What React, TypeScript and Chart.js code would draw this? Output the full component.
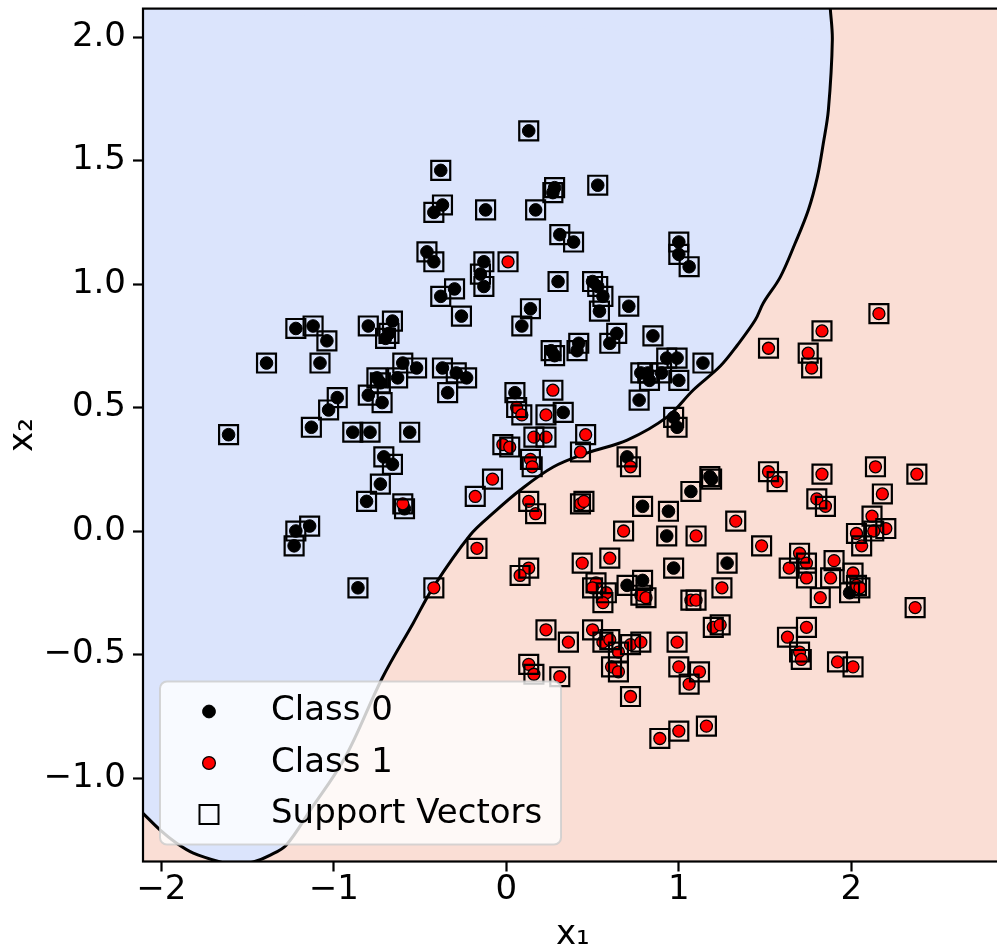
import React, { useEffect, useRef } from 'react';
import { Chart, registerables } from 'chart.js';

Chart.register(...registerables);

// Training points, class 0
const CLASS0_X = [
  -0.38, -0.37, -0.42, -0.46, -0.42, -0.30, -0.38, -0.26, -1.22, -1.12, -0.80, -0.66,
  0.13, 0.27, 0.28, 0.53, -0.12, 0.17, 0.31, 0.39, 1.00, 1.00, 1.06, -0.13, -0.15, -0.13,
  0.30, 0.50, 0.53, 0.56, 0.54, 0.71, 0.14, 0.09,
  -1.04, -1.39, -1.08, -0.68, -0.70, -0.60, -0.52, -0.37, -0.29, -0.23, -0.75, -0.73, -0.63,
  -0.80, -0.72, -0.34, -0.98, -1.03, -1.13, -0.89, -0.79, -0.56, -1.61, -0.71, -0.66, -0.73,
  -0.81, -0.59, -1.14, -1.22, -1.23, -0.86,
  0.64, 0.60, 0.85, 0.26, 0.28, 0.42, 0.41, 0.93, 0.99, 1.14, 0.78, 0.82, 0.83, 0.90, 1.00,
  0.77, 0.05, 0.33, 0.97, 0.99, 0.70, 1.18, 1.19, 1.07, 0.79, 0.94, 0.93,
  0.97, 1.28, 0.70, 0.79, 1.99,
];
const CLASS0_Y = [
  1.46, 1.32, 1.29, 1.13, 1.09, 0.98, 0.95, 0.87, 0.82, 0.83, 0.83, 0.85,
  1.62, 1.37, 1.39, 1.40, 1.30, 1.30, 1.20, 1.17, 1.17, 1.12, 1.07, 1.09, 1.04, 0.99,
  1.01, 1.01, 0.99, 0.95, 0.89, 0.91, 0.90, 0.83,
  0.77, 0.68, 0.68, 0.80, 0.78, 0.68, 0.66, 0.66, 0.64, 0.62, 0.62, 0.60, 0.62,
  0.55, 0.52, 0.56, 0.54, 0.49, 0.42, 0.40, 0.40, 0.40, 0.39, 0.30, 0.27, 0.19,
  0.12, 0.09, 0.02, 0.00, -0.06, -0.23,
  0.80, 0.76, 0.79, 0.73, 0.71, 0.76, 0.73, 0.70, 0.70, 0.68, 0.64, 0.64, 0.61, 0.64, 0.61,
  0.53, 0.56, 0.48, 0.46, 0.42, 0.30, 0.22, 0.21, 0.16, 0.10, 0.08, -0.02,
  -0.15, -0.13, -0.22, -0.20, -0.25,
];

// Training points, class 1
const CLASS1_X = [
  0.01, 2.16, -0.60, -0.42,
  0.27, 0.06, 0.09, 0.23, 0.16, 0.23, -0.02, 0.02, 0.14, 0.15, 0.46, 0.43, 0.72, -0.08,
  -0.18, 0.13, 0.17, 0.43, 0.45, 0.68, 1.10,
  1.83, 1.52, 1.75, 1.77, 1.52, 1.57, 1.83, 2.14, 2.38, 2.18, 1.80, 1.85, 1.33, 2.12, 2.13,
  2.20, 2.03,
  -0.17, 0.13, 0.08, 0.44, 0.60, 1.25, 0.52, 0.50, 0.58, 0.56, 0.78, 0.81, 1.07, 1.10,
  0.23, 0.36, 0.50, 0.56, 0.60, 0.65, 0.72, 0.78, 0.61, 0.65, 0.99, 1.00, 1.12, 1.06,
  1.20, 1.24, 0.13, 0.16, 0.31, 0.72, 0.89, 1.00, 1.16,
  2.06, 1.48, 1.70, 1.74, 1.64, 1.90, 1.74, 1.88, 1.82, 2.01, 2.03, 2.05, 2.37, 1.74, 1.63,
  1.70, 1.71, 1.92, 2.01,
];
const CLASS1_Y = [
  1.09, 0.88, 0.11, -0.23,
  0.57, 0.50, 0.47, 0.47, 0.38, 0.38, 0.35, 0.34, 0.29, 0.26, 0.39, 0.32, 0.26, 0.21,
  0.14, 0.12, 0.07, 0.11, 0.12, 0.00, -0.02,
  0.81, 0.74, 0.72, 0.66, 0.24, 0.20, 0.23, 0.26, 0.23, 0.15, 0.13, 0.10, 0.04, 0.06, 0.00,
  0.01, -0.01,
  -0.07, -0.15, -0.18, -0.13, -0.11, -0.23, -0.21, -0.23, -0.25, -0.29, -0.26, -0.27, -0.28, -0.28,
  -0.40, -0.45, -0.40, -0.45, -0.44, -0.49, -0.46, -0.45, -0.55, -0.57, -0.45, -0.55, -0.57, -0.62,
  -0.39, -0.38, -0.54, -0.58, -0.59, -0.67, -0.84, -0.81, -0.79,
  -0.06, -0.06, -0.09, -0.13, -0.15, -0.12, -0.19, -0.19, -0.27, -0.17, -0.22, -0.23, -0.31, -0.39, -0.43,
  -0.49, -0.52, -0.53, -0.55,
];

// Decision boundary (zero level of the decision function)
const BOUNDARY_X = [
  -2.106, -2.006, -1.913, -1.814, -1.658, -1.565, -1.467, -1.368, -1.275, -1.136, -0.933,
  -0.719, -0.539, -0.423, -0.209, -0.075, 0.081, 0.272, 0.470, 0.701, 0.933, 1.084, 1.241,
  1.339, 1.443, 1.490, 1.588, 1.675, 1.751, 1.803, 1.838, 1.867, 1.890, 1.878,
];
const BOUNDARY_Y = [
  -1.143, -1.211, -1.263, -1.304, -1.340, -1.352, -1.340, -1.312, -1.271, -1.130, -0.915,
  -0.595, -0.372, -0.227, -0.016, 0.073, 0.166, 0.259, 0.316, 0.368, 0.462, 0.571, 0.668,
  0.752, 0.854, 0.923, 1.028, 1.166, 1.300, 1.433, 1.571, 1.704, 1.988, 2.117,
];

const X_TICKS = [-2, -1, 0, 1, 2];
const Y_TICKS = [-1, -0.5, 0, 0.5, 1, 1.5, 2];
const X_MIN = -2.106;
const X_MAX = 2.877;
const Y_MIN = -1.338;
const Y_MAX = 2.115;

const CLASS_LABELS = ['Class 0', 'Class 1', 'Support Vectors'];
const AXIS_TITLES = ['x\u2081', 'x\u2082'];

const BLUE_REGION = 'rgb(219,228,252)';
const RED_REGION = 'rgb(250,222,213)';
const FONT = '"DejaVu Sans", "Liberation Sans", sans-serif';

const W = 1030;
const H = 947;

const minus = (s: string) => s.replace('-', '\u2212');

const toPoints = (xs: number[], ys: number[]) => xs.map((x, i) => ({ x, y: ys[i] }));

// Pink background for the class-1 region
const regionPlugin = {
  id: 'regionBackground',
  beforeDraw(chart: any) {
    const { ctx, chartArea: a } = chart;
    ctx.save();
    ctx.fillStyle = RED_REGION;
    ctx.fillRect(a.left, a.top, a.right - a.left, a.bottom - a.top);
    ctx.restore();
  },
};

// Axes frame drawn on top of the filled regions
const framePlugin = {
  id: 'frame',
  afterDatasetsDraw(chart: any) {
    const { ctx, chartArea: a } = chart;
    ctx.save();
    ctx.strokeStyle = '#000';
    ctx.lineWidth = 2.2;
    ctx.strokeRect(a.left, a.top, a.right - a.left, a.bottom - a.top);
    ctx.restore();
  },
};

// Boxed legend in the lower-left corner of the plot
const legendPlugin = {
  id: 'boxLegend',
  afterDraw(chart: any) {
    const { ctx, chartArea: a } = chart;
    const w = 401;
    const h = 163;
    const x = a.left + 17;
    const y = a.bottom - 17 - h;
    ctx.save();
    ctx.beginPath();
    ctx.roundRect(x, y, w, h, 7);
    ctx.fillStyle = 'rgba(255,255,255,0.8)';
    ctx.fill();
    ctx.strokeStyle = 'rgba(204,204,204,0.8)';
    ctx.lineWidth = 2;
    ctx.stroke();

    const entries = chart.data.datasets.filter((d: any) => CLASS_LABELS.includes(d.label));
    entries.forEach((d: any, i: number) => {
      const cy = y + 30 + i * 51.5;
      const mx = x + 49;
      ctx.beginPath();
      if (d.pointStyle === 'rect') {
        ctx.strokeStyle = '#000';
        ctx.lineWidth = 2;
        ctx.strokeRect(mx - 9.5, cy - 9.5, 19, 19);
      } else {
        ctx.arc(mx, cy, 6.4, 0, Math.PI * 2);
        ctx.fillStyle = d.pointBackgroundColor;
        ctx.fill();
        ctx.strokeStyle = '#000';
        ctx.lineWidth = d.pointBorderWidth;
        ctx.stroke();
      }
      ctx.fillStyle = '#000';
      ctx.font = `34px ${FONT}`;
      ctx.textAlign = 'left';
      ctx.textBaseline = 'middle';
      ctx.fillText(d.label, x + 111, cy);
    });
    ctx.restore();
  },
};

export default function App() {
  const canvasRef = useRef<HTMLCanvasElement | null>(null);

  useEffect(() => {
    if (!canvasRef.current) return;
    const class0 = toPoints(CLASS0_X, CLASS0_Y);
    const class1 = toPoints(CLASS1_X, CLASS1_Y);
    const support = [...class0, ...class1];

    const tickFont = { family: FONT, size: 34, lineHeight: 1 };
    const gridOpts = {
      display: true,
      drawOnChartArea: false,
      drawTicks: true,
      tickLength: 10,
      tickWidth: 2.2,
      tickColor: '#000',
    };

    const chart = new Chart(canvasRef.current, {
      type: 'scatter',
      data: {
        datasets: [
          {
            type: 'line',
            label: 'boundary',
            data: toPoints(BOUNDARY_X, BOUNDARY_Y),
            borderColor: '#000',
            borderWidth: 3,
            pointRadius: 0,
            tension: 0.35,
            fill: 'end',
            backgroundColor: BLUE_REGION,
            order: 4,
          } as any,
          {
            label: CLASS_LABELS[0],
            data: class0,
            pointRadius: 6.3,
            pointBackgroundColor: '#000',
            pointBorderColor: '#000',
            pointBorderWidth: 1,
            order: 3,
          },
          {
            label: CLASS_LABELS[1],
            data: class1,
            pointRadius: 6,
            pointBackgroundColor: '#ff0000',
            pointBorderColor: '#000',
            pointBorderWidth: 1.3,
            order: 2,
          },
          {
            label: CLASS_LABELS[2],
            data: support,
            pointStyle: 'rect',
            pointRadius: 13.4,
            pointBackgroundColor: 'rgba(0,0,0,0)',
            pointBorderColor: '#000',
            pointBorderWidth: 2.2,
            order: 1,
          } as any,
        ],
      },
      options: {
        responsive: false,
        devicePixelRatio: 1,
        animation: false,
        events: [],
        layout: {
          autoPadding: false,
          padding: { left: 0, top: 8.6, right: W - 1002.6, bottom: 0 },
        },
        plugins: {
          legend: { display: false },
          tooltip: { enabled: false },
          title: { display: false },
        },
        scales: {
          x: {
            type: 'linear',
            min: X_MIN,
            max: X_MAX,
            afterBuildTicks: (s: any) => {
              s.ticks = X_TICKS.map((v) => ({ value: v }));
            },
            afterFit: (s: any) => {
              s.height = H - 861.5;
              s.paddingLeft = 0;
              s.paddingRight = 0;
            },
            grid: gridOpts,
            border: { display: false },
            ticks: {
              autoSkip: false,
              maxRotation: 0,
              padding: 2,
              color: '#000',
              font: tickFont,
              callback: (v: any) => minus(String(v)),
            },
            title: {
              display: true,
              text: AXIS_TITLES[0],
              color: '#000',
              font: { family: FONT, size: 34, lineHeight: 0.7 },
              padding: { top: 0, bottom: 0 },
            },
          },
          y: {
            type: 'linear',
            min: Y_MIN,
            max: Y_MAX,
            afterBuildTicks: (s: any) => {
              s.ticks = Y_TICKS.map((v) => ({ value: v }));
            },
            afterFit: (s: any) => {
              s.width = 143;
              s.paddingTop = 0;
              s.paddingBottom = 0;
            },
            grid: gridOpts,
            border: { display: false },
            ticks: {
              autoSkip: false,
              padding: 7,
              color: '#000',
              font: tickFont,
              callback: (v: any) => minus(Number(v).toFixed(1)),
            },
            title: {
              display: true,
              text: AXIS_TITLES[1],
              color: '#000',
              font: { family: FONT, size: 34, lineHeight: 1.1 },
              padding: { top: 4, bottom: 0 },
            },
          },
        },
      },
      plugins: [regionPlugin, framePlugin, legendPlugin],
    });

    return () => chart.destroy();
  }, []);

  return (
    <div
      style={{
        position: 'fixed',
        left: 0,
        top: 0,
        width: 997,
        height: 947,
        overflow: 'hidden',
        background: '#fff',
      }}
    >
      <canvas
        ref={canvasRef}
        width={W}
        height={H}
        style={{ display: 'block', width: W, height: H }}
      />
    </div>
  );
}
